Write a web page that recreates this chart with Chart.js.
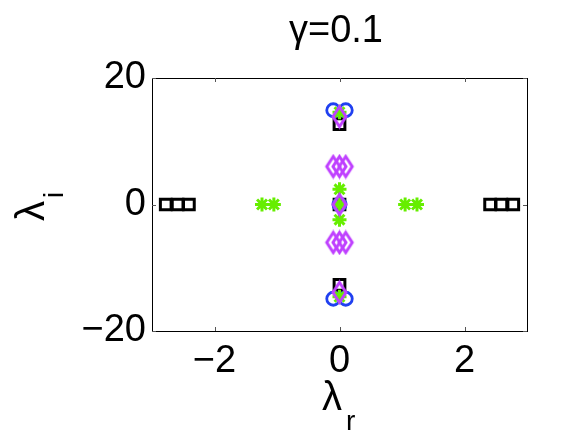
<!DOCTYPE html>
<html>
<head>
<meta charset="utf-8">
<script src="https://cdn.jsdelivr.net/npm/chart.js@4/dist/chart.umd.min.js"></script>
<style>
  html, body { margin: 0; padding: 0; background: #fff; }
</style>
</head>
<body>
<canvas id="eigChart" width="584" height="439"></canvas>
<script>
const squareRe = [-2.78, -2.59, -2.41, 2.41, 2.59, 2.78, 0, 0, 0];
const squareIm = [0, 0, 0, 0, 0, 0, 12.7, 0, -12.7];

const circleRe = [-0.1, 0.1, 0, -0.1, 0.1];
const circleIm = [14.9, 14.9, 0, -14.9, -14.9];

const diamondRe = [0, -0.1, 0, 0.1, 0, -0.1, 0, 0.1, 0];
const diamondIm = [13.9, 6, 6, 6, 0, -6, -6, -6, -13.9];

const starRe = [-1.24, -1.05, 1.05, 1.24, 0, 0, 0, 0, 0];
const starIm = [0, 0, 0, 0, 2.4, 0, -2.4, 14.6, -14.6];

const xTicks = [-2, 0, 2];
const yTicks = [-20, 0, 20];

const FONT = '"Liberation Sans", Arial, Helvetica, sans-serif';

function toPoints(re, im) {
    return re.map((v, i) => ({ x: v, y: im[i] }));
}

// MATLAB-like diamond is taller than wide
function makeDiamond(w, h, color, lw) {
    const c = document.createElement('canvas');
    c.width = w + lw * 2;
    c.height = h + lw * 2;
    const g = c.getContext('2d');
    const cx = c.width / 2, cy = c.height / 2;
    g.strokeStyle = color;
    g.lineWidth = lw;
    g.beginPath();
    g.moveTo(cx, cy - h / 2);
    g.lineTo(cx + w / 2, cy);
    g.lineTo(cx, cy + h / 2);
    g.lineTo(cx - w / 2, cy);
    g.closePath();
    g.stroke();
    return c;
}

const minus = v => String(v).replace('-', '\u2212');

// box, inward ticks, title and axis labels
const framePlugin = {
    id: 'frame',
    afterDraw(chart) {
        const { ctx, chartArea: a, scales: { x, y } } = chart;
        ctx.save();
        ctx.strokeStyle = '#000';
        ctx.lineWidth = 1;
        ctx.strokeRect(Math.round(a.left) + 0.5, Math.round(a.top) + 0.5,
            Math.round(a.right - a.left), Math.round(a.bottom - a.top));
        ctx.strokeStyle = '#555';
        ctx.beginPath();
        xTicks.forEach(v => {
            const px = Math.round(x.getPixelForValue(v)) + 0.5;
            ctx.moveTo(px, a.bottom); ctx.lineTo(px, a.bottom - 4);
            ctx.moveTo(px, a.top); ctx.lineTo(px, a.top + 4);
        });
        yTicks.forEach(v => {
            const py = Math.round(y.getPixelForValue(v)) + 0.5;
            ctx.moveTo(a.left, py); ctx.lineTo(a.left + 4, py);
            ctx.moveTo(a.right, py); ctx.lineTo(a.right - 4, py);
        });
        ctx.stroke();

        ctx.fillStyle = '#000';
        ctx.textBaseline = 'alphabetic';
        // title
        ctx.textAlign = 'center';
        ctx.font = '38px ' + FONT;
        ctx.fillText('\u03b3=0.1', 336, 42);
        // x label
        ctx.textAlign = 'left';
        ctx.font = '40px ' + FONT;
        ctx.fillText('\u03bb', 322, 410);
        ctx.font = '28px ' + FONT;
        ctx.fillText('r', 346, 430);
        // y label
        ctx.translate(44, 221);
        ctx.rotate(-Math.PI / 2);
        ctx.font = '40px ' + FONT;
        ctx.fillText('\u03bb', 0, 0);
        ctx.font = '28px ' + FONT;
        ctx.fillText('i', 23, 19);
        ctx.restore();
    }
};

const ctx = document.getElementById('eigChart').getContext('2d');
const chart = new Chart(ctx, {
    type: 'scatter',
    data: {
        datasets: [
            {
                label: 'diamond',
                data: toPoints(diamondRe, diamondIm),
                pointStyle: makeDiamond(13, 20, '#bf40ff', 3),
                pointRadius: 11
            },
            {
                label: 'star',
                data: toPoints(starRe, starIm),
                pointStyle: 'star',
                pointRadius: 7,
                borderColor: '#66ee00',
                backgroundColor: '#66ee00',
                pointBorderWidth: 3
            },
            {
                label: 'circle',
                data: toPoints(circleRe, circleIm),
                pointStyle: 'circle',
                pointRadius: 6.5,
                borderColor: '#2040f0',
                backgroundColor: 'rgba(0,0,0,0)',
                pointBorderWidth: 2.8
            },
            {
                label: 'square',
                data: toPoints(squareRe, squareIm),
                pointStyle: 'rect',
                pointRadius: 7.6,
                borderColor: '#000',
                backgroundColor: 'rgba(0,0,0,0)',
                pointBorderWidth: 3
            }
        ]
    },
    options: {
        responsive: false,
        animation: false,
        events: [],
        layout: { padding: { left: 0, top: 78, right: 57, bottom: 0 } },
        plugins: { legend: { display: false }, tooltip: { enabled: false } },
        scales: {
            x: {
                type: 'linear',
                min: -3,
                max: 3,
                afterBuildTicks: s => { s.ticks = xTicks.map(v => ({ value: v })); },
                afterFit: s => { s.height = 108; },
                grid: { display: false, drawTicks: false },
                border: { display: false },
                ticks: {
                    color: '#000',
                    font: { family: FONT, size: 38 },
                    padding: 8,
                    maxRotation: 0,
                    callback: v => minus(v)
                }
            },
            y: {
                type: 'linear',
                min: -20,
                max: 20,
                afterBuildTicks: s => { s.ticks = yTicks.map(v => ({ value: v })); },
                afterFit: s => { s.width = 152; },
                grid: { display: false, drawTicks: false },
                border: { display: false },
                ticks: {
                    color: '#000',
                    font: { family: FONT, size: 38 },
                    padding: 6,
                    callback: v => minus(v)
                }
            }
        }
    },
    plugins: [framePlugin]
});
</script>
</body>
</html>
